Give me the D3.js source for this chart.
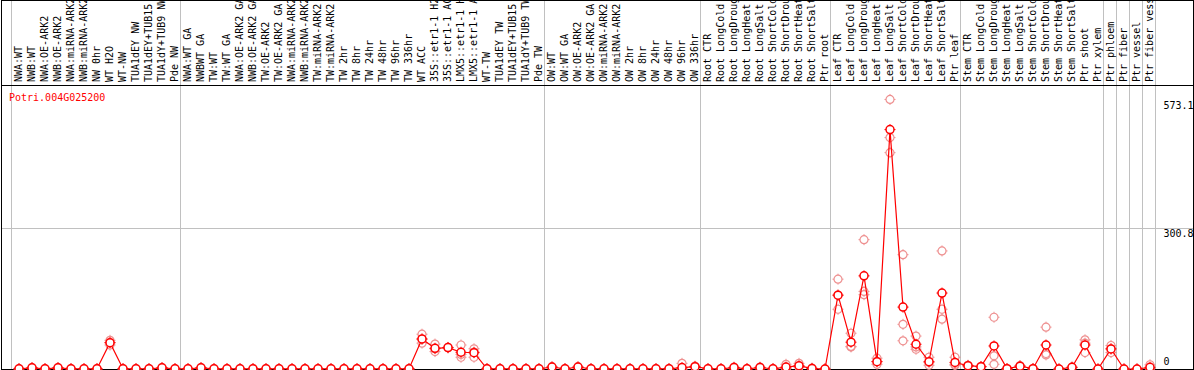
<!DOCTYPE html>
<html>
<head>
<meta charset="utf-8">
<script src="https://cdn.jsdelivr.net/npm/d3@7"></script>
<style>
    body { margin: 0; background: #fff; }
    text { font-family: "DejaVu Sans Mono", monospace; font-size: 10px; }
</style>
</head>
<body>
<div id="bd"></div>
<script>
var geneName = "Potri.004G025200";

var samples = [
    "NWA:WT", "NWB:WT", "NWA:OE-ARK2", "NWB:OE-ARK2", "NWA:miRNA-ARK2", "NWB:miRNA-ARK2", "NW 0hr", "WT H2O", "WT-NW",
    "TUA1dEY NW", "TUA1dEY+TUB15 NW", "TUA1dY+TUB9 NW", "Pde NW",
    "NWA:WT GA", "NWBWT GA", "TW:WT", "TW:WT GA", "NWA:OE-ARK2 GA", "NWB:OE-ARK2 GA", "TW:OE-ARK2", "TW:OE-ARK2 GA",
    "NWA:miRNA-ARK2", "NWB:miRNA-ARK2", "TW:miRNA-ARK2", "TW:miRNA-ARK2", "TW 2hr", "TW 8hr", "TW 24hr", "TW 48hr",
    "TW 96hr", "TW 336hr", "WT ACC", "35S::etr1-1 H2O", "35S::etr1-1 ACC", "LMX5::etr1-1 H2O", "LMX5::etr1-1 ACC",
    "WT-TW", "TUA1dEY TW", "TUA1dEY+TUB15 TW", "TUA1dY+TUB9 TW", "Pde TW",
    "OW:WT", "OW:WT GA", "OW:OE-ARK2", "OW:OE-ARK2 GA", "OW:miRNA-ARK2", "OW:miRNA-ARK2", "OW 2hr", "OW 8hr",
    "OW 24hr", "OW 48hr", "OW 96hr", "OW 336hr",
    "Root CTR", "Root LongCold", "Root LongDrought", "Root LongHeat", "Root LongSalt", "Root ShortCold",
    "Root ShortDrought", "Root ShortHeat", "Root ShortSalt", "Ptr root",
    "Leaf CTR", "Leaf LongCold", "Leaf LongDrought", "Leaf LongHeat", "Leaf LongSalt", "Leaf ShortCold",
    "Leaf ShortDrought", "Leaf ShortHeat", "Leaf ShortSalt", "Ptr leaf",
    "Stem CTR", "Stem LongCold", "Stem LongDrought", "Stem LongHeat", "Stem LongSalt", "Stem ShortCold",
    "Stem ShortDrought", "Stem ShortHeat", "Stem ShortSalt", "Ptr shoot",
    "Ptr xylem", "Ptr phloem", "Ptr fiber", "Ptr vessel", "Ptr fiber vessel"
];

// last sample of each block (a grey separator follows it)
var groupEnds = [12, 40, 52, 62, 72, 83, 84, 85, 86, 87];

var means = [
    0.5, 2.5, 0.5, 2.5, 0.5, 0.5, 0.5, 56, 0.5, 0.5, 0.5, 2.5, 0.5,
    0.5, 2.5, 0.5, 0.5, 0.5, 0.5, 0.5, 0.5, 0.5, 0.5, 0.5, 0.5, 0.5, 0.5, 0.5, 0.5,
    0.5, 0.5, 64, 44, 45.5, 35.6, 34.8, 0.5, 0.5, 0.5, 0.5, 0.5,
    4, 0.5, 4, 0.5, 0.5, 0.5, 0.5, 0.5, 0.5, 0.5, 3, 5,
    0.5, 0.5, 3, 0.5, 3, 0.5, 4, 7, 1, 0,
    157, 57, 198, 15.6, 509, 131.6, 52.6, 15.6, 161.5, 14,
    7, 5, 49, 0.7, 6, 0.7, 51, 0, 3.6, 51,
    0, 42.7, 0, 0, 3.6
];

var replicates = [
    [0, 1], [2, 3], [0, 1], [2, 3], [0, 1], [0, 1], [0, 1], [61, 51, 56], [0, 1], [0, 1], [0, 1], [2, 3], [0, 1],
    [0, 1], [2, 3], [0, 1], [0, 1], [0, 1], [0, 1], [0, 1], [0, 1], [0, 1], [0, 1], [0, 1], [0, 1], [0, 1], [0, 1], [0, 1], [0, 1],
    [0, 1], [0, 1], [74, 55, 63], [53, 37, 43], [45, 46], [51, 25, 31], [43, 25, 36], [0, 1], [0, 1], [0, 1], [0, 1], [0, 1],
    [3, 5], [0, 1], [3, 5], [0, 1], [0, 1], [0, 1], [0, 1], [0, 1], [0, 1], [0, 1], [12, 0, 0], [4, 6],
    [0, 1], [0, 1], [2, 4], [0, 1], [2, 4], [0, 1], [10, 1, 1], [12, 5, 4], [1, 2], [0, 0],
    [191, 157, 127], [76, 48, 47], [275, 165, 158], [23, 16, 10], [573.1, 492, 460], [243, 95, 60], [70, 47, 42], [25, 14, 8], [251, 127, 106], [25, 10, 8],
    [8, 6], [5, 5], [110, 28, 10], [0, 1], [6, 7], [0, 1], [89, 33, 30], [0, 0], [3, 4], [62, 35, 55],
    [0, 0], [50, 35, 43], [0, 0], [0, 0], [9, 1, 1]
];

var yTicks = [0, 300.8, 573.1];

var width = 1194,
    height = 370,
    headerBottom = 85.5,
    plotBottom = 369;

var svg = d3.select("#bd")
    .append("svg")
    .attr("width", width)
    .attr("height", height);

svg.append("rect")
    .attr("width", width)
    .attr("height", height)
    .attr("fill", "#fff");

var x = d3.scaleBand()
    .domain(d3.range(samples.length))
    .range([11, 1155]);

var cx = function (i) { return x(i) + 8; };

var y = d3.scaleLinear()
    .domain([0, 601.7])
    .range([plotBottom, 86]);

// grey separators
var seps = [x(0)].concat(groupEnds.map(function (i) { return x(i) + x.step(); }));
svg.append("g")
    .selectAll("line")
    .data(seps)
    .enter()
    .append("line")
    .attr("x1", function (d) { return Math.round(d) + 0.5; })
    .attr("x2", function (d) { return Math.round(d) + 0.5; })
    .attr("y1", 0)
    .attr("y2", plotBottom)
    .attr("stroke", "#c0c0c0");

// middle gridline
svg.append("g")
    .selectAll("line")
    .data(yTicks.filter(function (v) { return v > 0 && v < d3.max(yTicks); }))
    .enter()
    .append("line")
    .attr("x1", 1)
    .attr("x2", 1193)
    .attr("y1", function (d) { return Math.round(y(d)) + 0.5; })
    .attr("y2", function (d) { return Math.round(y(d)) + 0.5; })
    .attr("stroke", "#c0c0c0");

// sample labels (long ones run off the top, as in the original)
svg.append("g")
    .selectAll("text")
    .data(samples)
    .enter()
    .append("text")
    .attr("transform", function (d, i) {
        return "translate(" + (cx(i) + 2.5) + ",82) rotate(-90)";
    })
    .attr("fill", "#000")
    .text(function (d) { return d; });

// header line + frame
svg.append("line")
    .attr("x1", 1).attr("x2", 1193)
    .attr("y1", headerBottom).attr("y2", headerBottom)
    .attr("stroke", "#000");

svg.append("rect")
    .attr("x", 1.5).attr("y", 0.5)
    .attr("width", 1192).attr("height", 369)
    .attr("fill", "none")
    .attr("stroke", "#000");

// y labels
svg.append("g")
    .selectAll("text")
    .data(yTicks)
    .enter()
    .append("text")
    .attr("x", 1163.5)
    .attr("y", function (d) { return Math.min(y(d) + 9.5, 365); })
    .attr("fill", "#000")
    .text(function (d) { return d; });

svg.append("text")
    .attr("x", 9)
    .attr("y", 101)
    .attr("fill", "#f00")
    .text(geneName);

var marker = function (sel, r) {
    sel.append("circle")
        .attr("r", r);
    sel.append("path")
        .attr("stroke-width", 1)
        .attr("d", "M0," + (-r - 1.5) + "V" + (-r) + "M0," + r + "V" + (r + 1.5) +
            "M" + (-r - 1.5) + ",0H" + (-r) + "M" + r + ",0H" + (r + 1.5));
};

// replicate points
var reps = [];
replicates.forEach(function (vals, i) {
    vals.forEach(function (v) { reps.push({i: i, v: v}); });
});

svg.append("g")
    .attr("fill", "none")
    .attr("stroke", "#ee9090")
    .attr("stroke-width", 1.2)
    .selectAll("g")
    .data(reps)
    .enter()
    .append("g")
    .attr("transform", function (d) { return "translate(" + cx(d.i) + "," + y(d.v) + ")"; })
    .call(marker, 4);

// mean line
var line = d3.line()
    .x(function (d, i) { return cx(i); })
    .y(function (d) { return y(d); });

svg.append("path")
    .attr("d", line(means))
    .attr("fill", "none")
    .attr("stroke", "#f00")
    .attr("stroke-width", 1.2);

svg.append("g")
    .attr("fill", "#fff")
    .attr("stroke", "#f00")
    .attr("stroke-width", 1.5)
    .selectAll("g")
    .data(means)
    .enter()
    .append("g")
    .attr("transform", function (d, i) { return "translate(" + cx(i) + "," + y(d) + ")"; })
    .call(marker, 4);
</script>
</body>
</html>
